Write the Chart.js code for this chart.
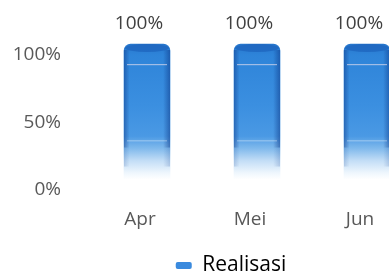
<!DOCTYPE html>
<html>
<head>
<meta charset="utf-8">
<script src="https://cdn.jsdelivr.net/npm/chart.js@4/dist/chart.umd.min.js"></script>
<style>
html,body{margin:0;padding:0;background:#fff;overflow:hidden;}
canvas{display:block;}
</style>
</head>
<body>
<canvas id="c" width="415" height="273"></canvas>
<script>
const categories = ['Apr', 'Mei', 'Jun'];
const realisasi = [100, 100, 100];
const seriesName = 'Realisasi';
const yMin = 0, yMax = 100, yStep = 50;

Chart.defaults.font.family = "'Open Sans', sans-serif";
Chart.defaults.color = '#595959';

const DX = 7, DY = -10.5; // 3D depth offset of the cylinders

function barGradient(ctx) {
  const chart = ctx.chart;
  const a = chart.chartArea;
  if (!a) return '#3a8ade';
  const g = chart.ctx.createLinearGradient(0, a.top, 0, a.bottom);
  g.addColorStop(0, '#2776cc');
  g.addColorStop(0.08, '#2e84d9');
  g.addColorStop(0.45, '#3b8fe0');
  g.addColorStop(0.68, '#4a99e4');
  g.addColorStop(0.77, '#80b9ec');
  g.addColorStop(0.86, '#c2ddf6');
  g.addColorStop(0.95, '#eef6fd');
  g.addColorStop(1, '#ffffff');
  return g;
}

const cylinderPlugin = {
  id: 'cylinder',
  beforeDatasetsDraw(chart) {
    chart.ctx.save();
    chart.ctx.translate(DX, DY);
  },
  afterDatasetsDraw(chart) {
    const ctx = chart.ctx;
    const meta = chart.getDatasetMeta(0);
    meta.data.forEach(el => {
      const p = el.getProps(['x', 'y', 'base', 'width'], true);
      const l = p.x - p.width / 2, r = p.x + p.width / 2;
      const h = p.base - p.y;
      const sg = ctx.createLinearGradient(l, 0, r, 0);
      sg.addColorStop(0, 'rgba(15,60,140,0.5)');
      sg.addColorStop(0.12, 'rgba(15,60,140,0.0)');
      sg.addColorStop(0.85, 'rgba(15,60,140,0.0)');
      sg.addColorStop(1, 'rgba(15,60,140,0.55)');
      ctx.fillStyle = sg;
      ctx.fillRect(l, p.y + 6, p.width, h * 0.72);
      ctx.globalAlpha = 0.35;
      ctx.fillRect(l, p.y + 6 + h * 0.72, p.width, h * 0.14);
      ctx.globalAlpha = 1;
      ctx.beginPath();
      ctx.ellipse(p.x, p.y + 4, p.width / 2 - 1, 4, 0, 0, Math.PI * 2);
      ctx.fillStyle = 'rgba(30,100,190,0.75)';
      ctx.fill();
      ctx.fillStyle = 'rgba(255,235,240,0.55)';
      ctx.fillRect(l + 3, p.y + 20, p.width - 6, 1.2);
      ctx.fillStyle = 'rgba(255,255,255,0.35)';
      ctx.fillRect(l + 3, p.y + 0.71 * h, p.width - 6, 1.2);
    });
    ctx.restore();
    ctx.save();
    ctx.font = "19px 'Open Sans', sans-serif";
    ctx.fillStyle = '#404040';
    ctx.textAlign = 'center';
    ctx.textBaseline = 'middle';
    meta.data.forEach((el, i) => {
      const p = el.getProps(['x', 'y'], true);
      ctx.fillText(realisasi[i] + '%', p.x - 1, p.y - 31);
    });
    ctx.restore();
  },
  afterLayout(chart) {
    const lg = chart.legend;
    if (lg) {
      lg.left = -9;
      lg.right = 471;
      lg.top += 13;
      lg.bottom += 13;
    }
  }
};

new Chart(document.getElementById('c'), {
  type: 'bar',
  data: {
    labels: categories,
    datasets: [{
      label: seriesName,
      data: realisasi,
      backgroundColor: barGradient,
      borderWidth: 0,
      borderRadius: {topLeft: 7, topRight: 7, bottomLeft: 0, bottomRight: 0},
      borderSkipped: 'bottom',
      barThickness: 46,
      clip: false
    }]
  },
  options: {
    responsive: false,
    animation: false,
    layout: {padding: {top: 54.5, left: 0, right: 0, bottom: 0}},
    plugins: {
      legend: {
        position: 'bottom',
        labels: {
          boxWidth: 16,
          boxHeight: 7,
          padding: 0,
          color: '#595959',
          font: {size: 21},
          generateLabels(chart) {
            return [{
              text: seriesName,
              fillStyle: '#3a8ade',
              strokeStyle: '#3a8ade',
              lineWidth: 0,
              borderRadius: 2,
              datasetIndex: 0
            }];
          }
        }
      },
      tooltip: {enabled: false}
    },
    scales: {
      x: {
        grid: {display: false, drawTicks: false},
        border: {display: false},
        ticks: {font: {size: 19}, padding: 18, color: '#595959'},
        afterFit(s) { s.height = 52; }
      },
      y: {
        min: yMin,
        max: yMax,
        grid: {display: false, drawTicks: false},
        border: {display: false},
        ticks: {
          stepSize: yStep,
          font: {size: 19},
          padding: 24,
          color: '#595959',
          callback: v => v + '%'
        },
        afterFit(s) { s.width = 85; }
      }
    }
  },
  plugins: [cylinderPlugin]
});
</script>
</body>
</html>
